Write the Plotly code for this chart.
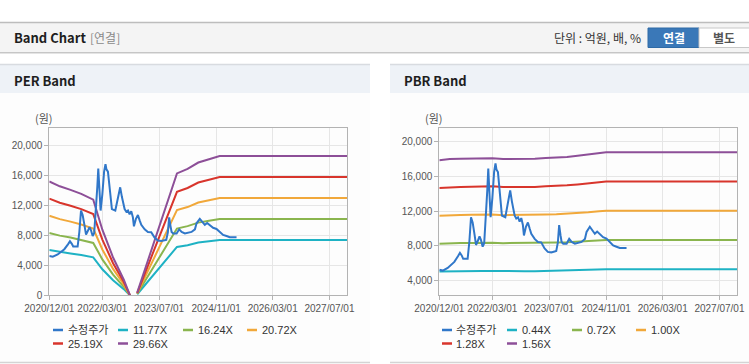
import plotly.graph_objects as go

W, H = 749, 364

# ---------------- data ----------------
price_dates = [
    "2020-12-01", "2020-12-31", "2021-02-11", "2021-03-11", "2021-04-09", "2021-05-10", "2021-05-27",
    "2021-06-11", "2021-06-24", "2021-08-01", "2021-08-16", "2021-08-30", "2021-09-13", "2021-09-27",
    "2021-10-12", "2021-10-25", "2021-11-11", "2021-11-23", "2021-12-08", "2021-12-21", "2022-01-05",
    "2022-01-17", "2022-01-25", "2022-02-04", "2022-02-14", "2022-03-01", "2022-03-16", "2022-03-28",
    "2022-04-05", "2022-04-18", "2022-05-02", "2022-05-22", "2022-06-20", "2022-07-09", "2022-08-01",
    "2022-08-16", "2022-09-08", "2022-09-22", "2022-10-07", "2022-10-21", "2022-11-04", "2022-11-18",
    "2022-11-27", "2022-12-14", "2022-12-31", "2023-01-15", "2023-01-29", "2023-02-27", "2023-03-27",
    "2023-04-24", "2023-05-23", "2023-06-20", "2023-07-19", "2023-08-17", "2023-08-31", "2023-09-14",
    "2023-09-25", "2023-10-07", "2023-10-16", "2023-10-30", "2023-11-28", "2023-12-20", "2024-01-10",
    "2024-02-07", "2024-03-06", "2024-04-04", "2024-05-03", "2024-05-17", "2024-06-14", "2024-07-13",
    "2024-07-27", "2024-08-16", "2024-09-08", "2024-10-06", "2024-11-04", "2024-12-03", "2024-12-31",
    "2025-01-29", "2025-02-26", "2025-04-25",
]
price_values = [
    5250, 5150, 5450, 5800, 6150, 6800, 7200,
    6900, 6500, 6500, 8500, 11300, 10700, 9500,
    8100, 8500, 9100, 8700, 7900, 8300, 11200,
    14500, 16900, 14000, 11300, 13500, 16500, 17500,
    16800, 16500, 14200, 11500, 11300, 12800, 14400,
    13100, 11500, 11150, 11300, 10800, 11200, 10400,
    9200, 10200, 10700, 10000, 9400, 8800, 8450,
    8400, 7700, 7300, 7250, 7350, 7400, 8400,
    10400, 9200, 8450, 8250, 8250, 8800, 8450,
    8250, 8350, 8450, 8800, 9600, 10200, 9600,
    9400, 9650, 9400, 9000, 8850, 8400, 8050,
    7900, 7750, 7750,
]

per_dates = ["2020-12-01", "2021-03-01", "2021-06-01", "2021-09-01", "2021-12-13", "2022-03-01",
             "2022-06-01", "2022-09-01", "2022-10-24", "2022-11-20", "2022-12-25", "2023-12-01",
             "2024-03-01", "2024-06-01", "2024-09-01", "2024-12-01", "2027-12-01"]
per_names = ["11.77X", "16.24X", "20.72X", "25.19X", "29.66X"]
per_1177 = [6026, 5767, 5579, 5367, 5061, 3472, 2001, 824, 0, None, 141, 6450, 6685, 7027, 7203, 7368, 7368]
per_1624 = [8315, 7958, 7698, 7405, 6983, 4791, 2761, 1137, 0, None, 195, 8900, 9224, 9695, 9939, 10166, 10166]
per_2072 = [10609, 10153, 9821, 9448, 8910, 6112, 3522, 1450, 0, None, 249, 11355, 11769, 12370, 12681, 12971, 12971]
per_2519 = [12897, 12343, 11940, 11487, 10832, 7431, 4282, 1763, 0, None, 302, 13804, 14308, 15038, 15416, 15769, 15769]
per_2966 = [15186, 14533, 14059, 13525, 12754, 8750, 5042, 2076, 0, None, 356, 16254, 16847, 17707, 18152, 18567, 18567]

pbr_dates = ["2020-12-01", "2021-03-01", "2021-06-01", "2021-09-01", "2021-12-01", "2022-03-01",
             "2022-06-01", "2022-09-01", "2022-12-01", "2023-03-01", "2023-06-01", "2023-09-01",
             "2023-12-01", "2024-03-01", "2024-06-01", "2024-09-01", "2024-11-01", "2027-12-01"]
pbr_names = ["0.44X", "0.72X", "1.00X", "1.28X", "1.56X"]
pbr_044 = [5042, 5078, 5086, 5095, 5108, 5108, 5078, 5078, 5078, 5086, 5113, 5126, 5148, 5183, 5227, 5276, 5298, 5298]
pbr_072 = [8251, 8309, 8323, 8338, 8359, 8359, 8309, 8309, 8309, 8323, 8366, 8388, 8424, 8482, 8554, 8633, 8669, 8669]
pbr_100 = [11460, 11540, 11560, 11580, 11610, 11610, 11540, 11540, 11540, 11560, 11620, 11650, 11700, 11780, 11880, 11990, 12040, 12040]
pbr_128 = [14669, 14771, 14797, 14822, 14861, 14861, 14771, 14771, 14771, 14797, 14874, 14912, 14976, 15078, 15206, 15347, 15411, 15411]
pbr_156 = [17878, 18002, 18034, 18065, 18112, 18112, 18002, 18002, 18002, 18034, 18127, 18174, 18252, 18377, 18533, 18704, 18782, 18782]

price_name = "수정주가"
x_tickvals = ["2020-12-01", "2022-03-01", "2023-07-01", "2024-11-01", "2026-03-01", "2027-07-01"]
x_ticktext = ["2020/12/01", "2022/03/01", "2023/07/01", "2024/11/01", "2026/03/01", "2027/07/01"]
per_yticks = [0, 4000, 8000, 12000, 16000, 20000]
pbr_yticks = [4000, 8000, 12000, 16000, 20000]

colors = ["#3077c9", "#1eb2c4", "#8ab54e", "#f1a83a", "#d8352c", "#8d4f98"]

# ---------------- helpers ----------------
def X(px):
    return px / W

def Y(py):
    return 1 - py / H

fig = go.Figure()

per_series = [per_1177, per_1624, per_2072, per_2519, per_2966]
pbr_series = [pbr_044, pbr_072, pbr_100, pbr_128, pbr_156]

for i, s in enumerate(per_series):
    fig.add_trace(go.Scatter(x=per_dates, y=s, mode="lines", name=per_names[i],
                             line=dict(color=colors[i + 1], width=2), xaxis="x", yaxis="y",
                             connectgaps=False))
fig.add_trace(go.Scatter(x=price_dates, y=price_values, mode="lines", name=price_name,
                         line=dict(color=colors[0], width=2), xaxis="x", yaxis="y"))

for i, s in enumerate(pbr_series):
    fig.add_trace(go.Scatter(x=pbr_dates, y=s, mode="lines", name=pbr_names[i],
                             line=dict(color=colors[i + 1], width=2), xaxis="x2", yaxis="y2"))
fig.add_trace(go.Scatter(x=price_dates, y=price_values, mode="lines", name=price_name,
                         line=dict(color=colors[0], width=2), xaxis="x2", yaxis="y2"))

tickfont = dict(family="Liberation Sans, Arial, sans-serif", size=10, color="#555555")
common_x = dict(type="date", range=["2020-12-01", "2027-12-01"], tickvals=x_tickvals,
                ticktext=x_ticktext, showgrid=True, gridcolor="#e6e6e6", gridwidth=1,
                showline=True, mirror=True, linecolor="#b3b3b3", linewidth=1,
                ticks="outside", ticklen=4, tickcolor="#b3b3b3", tickfont=tickfont,
                zeroline=False, fixedrange=True)
common_y = dict(showgrid=True, gridcolor="#e6e6e6", gridwidth=1, showline=True, mirror=True,
                linecolor="#b3b3b3", linewidth=1, ticks="outside", ticklen=4,
                tickcolor="#b3b3b3", tickfont=tickfont, tickformat=",", zeroline=False,
                fixedrange=True)

fig.update_layout(
    width=W, height=H, autosize=False,
    margin=dict(l=0, r=0, t=0, b=0, autoexpand=False),
    paper_bgcolor="#ffffff", plot_bgcolor="rgba(0,0,0,0)",
    showlegend=False,
    xaxis=dict(domain=[X(49.3), X(347.3)], anchor="y", **common_x),
    yaxis=dict(domain=[Y(295.3), Y(128.3)], anchor="x", range=[0, 22270], tickvals=per_yticks, **common_y),
    xaxis2=dict(domain=[X(439.3), X(737.3)], anchor="y2", **common_x),
    yaxis2=dict(domain=[Y(295.3), Y(128.3)], anchor="x2", range=[2300, 21550], tickvals=pbr_yticks, **common_y),
)

shapes = []
annots = []

def rect(x0, y0, x1, y1, fill, line=None, lw=0):
    shapes.append(dict(type="rect", xref="paper", yref="paper", x0=X(x0), x1=X(x1), y0=Y(y1), y1=Y(y0),
                       fillcolor=fill, line=dict(color=line or fill, width=lw), layer="below"))

def hline(x0, x1, y, color, w=1, layer="below"):
    shapes.append(dict(type="line", xref="paper", yref="paper", x0=X(x0), x1=X(x1), y0=Y(y), y1=Y(y),
                       line=dict(color=color, width=w), layer=layer))

def text(x, y, t, size=12, color="#333333", anchor="left", bold=False, family="Noto Sans CJK KR, sans-serif"):
    annots.append(dict(xref="paper", yref="paper", x=X(x), y=Y(y), text=("<b>%s</b>" % t) if bold else t,
                       showarrow=False, xanchor=anchor, yanchor="middle",
                       font=dict(size=size, color=color, family=family)))

# top header bar
rect(0, 22, 749, 52, "#f4f4f4")
hline(0, 749, 22.5, "#bdbdbd", 1.5)
hline(0, 749, 52.5, "#c6c6c6", 1)
hline(0, 749, 53.5, "#e4e4e4", 1)
text(12, 38, "Band Chart", 13, "#1e1e1e", bold=True)
text(88, 38, "[연결]", 12, "#8a8a8a")
text(643, 38, "단위 : 억원, 배, %", 12, "#333333", anchor="right")
# buttons
rect(648, 28, 699, 47.5, "#3a78b8", "#2e6aa6", 1)
rect(699, 28, 752, 47.5, "#ffffff", "#c8c8c8", 1)
text(673.5, 38, "연결", 12, "#ffffff", anchor="center", bold=True)
text(724, 38, "별도", 12, "#555555", anchor="center", bold=True)

# panels
for (x0, x1, title) in [(0, 370, "PER Band"), (390, 749, "PBR Band")]:
    rect(x0, 64, x1, 93, "#eef2f7")
    hline(x0, x1, 64.5, "#d8dbe0", 1.5)
    rect(x0, 93, x1, 362, "#fdfdfd")
    hline(x0, x1, 362.5, "#d4d4d4", 1.5)
    text(x0 + 12, 80, title, 13, "#1e1e1e", bold=True)
    text(x0 + 33, 118, "(원)", 11, "#555555")

# custom legends
legend_names_left = [price_name] + per_names
legend_names_right = [price_name] + pbr_names
slots = [(53, 330), (118, 330), (183, 330), (247, 330), (53, 343.5), (118, 343.5)]
for offset, names in [(0, legend_names_left), (389, legend_names_right)]:
    for i, nm in enumerate(names):
        sx, sy = slots[i]
        sx += offset
        hline(sx, sx + 10, sy, colors[i], 2.5, layer="above")
        text(sx + 12.5, sy, nm, 11, "#333333", family="Liberation Sans, Noto Sans CJK KR, sans-serif")

fig.update_layout(shapes=shapes, annotations=annots)
fig.write_html("out.html", config={"displayModeBar": False},
               post_script="document.body.style.margin='0';document.body.style.overflow='hidden';")
